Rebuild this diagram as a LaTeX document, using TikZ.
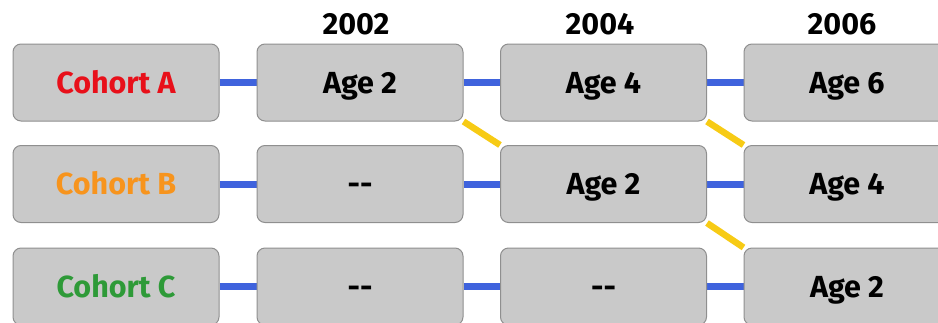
\documentclass[tikz,border=0pt]{standalone}
\usepackage{fontspec}
\setmainfont{Fira Sans}
\usetikzlibrary{backgrounds}
\definecolor{boxfill}{HTML}{C9C9C9}
\definecolor{boxline}{HTML}{8F8F8F}
\definecolor{linkblue}{HTML}{3F63DD}
\definecolor{linkyellow}{HTML}{F7CB15}
\definecolor{cohA}{HTML}{E8101A}
\definecolor{cohB}{HTML}{F7941D}
\definecolor{cohC}{HTML}{2E9A38}
\tikzset{
  cell/.style={draw=boxline, line width=1pt, fill=boxfill, rounded corners=8pt,
    minimum width=206pt, minimum height=77pt, inner sep=0pt,
    text height=21pt, text depth=0pt,
    font=\fontsize{30.5}{33}\selectfont\bfseries},
  yearlab/.style={font=\fontsize{30.5}{33}\selectfont\bfseries, inner sep=0pt,
    text height=21pt, text depth=0pt},
  blink/.style={draw=linkblue, line width=7pt},
  ylink/.style={draw=linkyellow, line width=6.5pt},
}
\begin{document}
\begin{tikzpicture}[x=1pt,y=-1pt]
\useasboundingbox (0,0) rectangle (938,322);
\clip (0,0) rectangle (938,322);
\node[yearlab] (y1) at (356,24) {2002};
\node[yearlab] (y2) at (600,24) {2004};
\node[yearlab] (y3) at (842,24) {2006};
% row A
\node[cell, text=cohA] (a0) at (116,82.5) {Cohort A};
\node[cell] (a1) at (360,82.5) {Age 2};
\node[cell] (a2) at (603.5,82.5) {Age 4};
\node[cell] (a3) at (847,82.5) {Age 6};
% row B
\node[cell, text=cohB] (b0) at (116,184) {Cohort B};
\node[cell] (b1) at (360,184) {-{}-};
\node[cell] (b2) at (603.5,184) {Age 2};
\node[cell] (b3) at (847,184) {Age 4};
% row C
\node[cell, text=cohC] (c0) at (116,286.5) {Cohort C};
\node[cell] (c1) at (360,286.5) {-{}-};
\node[cell] (c2) at (603.5,286.5) {-{}-};
\node[cell] (c3) at (847,286.5) {Age 2};
\begin{scope}[on background layer]
\foreach \r in {a,b,c}{
  \draw[blink] (\r0.east) -- (\r1.west);
  \draw[blink] (\r1.east) -- (\r2.west);
  \draw[blink] (\r2.east) -- (\r3.west);
}
\draw[ylink] (a1.south east) -- (b2.north west);
\draw[ylink] (a2.south east) -- (b3.north west);
\draw[ylink] (b2.south east) -- (c3.north west);
\end{scope}
\end{tikzpicture}
\end{document}
